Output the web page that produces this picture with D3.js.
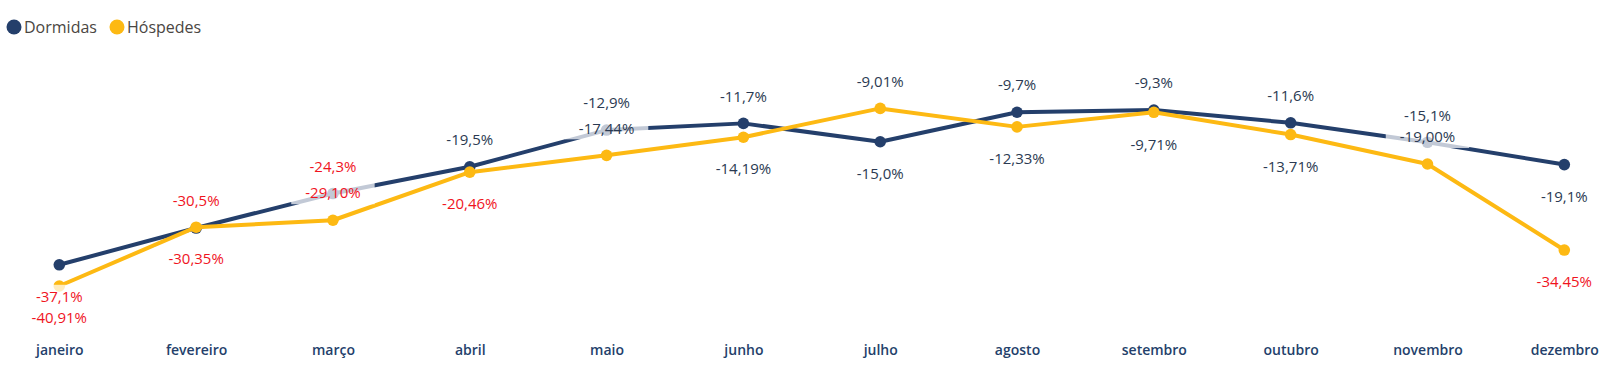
<!DOCTYPE html>
<html>
<head>
    <title>Dormidas e Hóspedes</title>
    <meta charset="utf-8">
    <style>
        body { margin: 0; background: #fff; }
        svg { display: block; font-family: 'Open Sans', 'Noto Sans', sans-serif; }
    </style>
</head>
<body>
<div class='chart-container'></div>
<script src="https://cdn.jsdelivr.net/npm/d3@7/dist/d3.min.js"></script>
<script>
    // data (variação %, por mês)
    var months = ['janeiro', 'fevereiro', 'março', 'abril', 'maio', 'junho',
        'julho', 'agosto', 'setembro', 'outubro', 'novembro', 'dezembro'];
    var dormidas = [-37.1, -30.5, -24.3, -19.5, -12.9, -11.7, -15.0, -9.7, -9.3, -11.6, -15.1, -19.1];
    var hospedes = [-40.91, -30.35, -29.10, -20.46, -17.44, -14.19, -9.01, -12.33, -9.71, -13.71, -19.00, -34.45];

    // where each data label sits relative to its point
    var dormidasLabelSide = ['below', 'above', 'above', 'above', 'above', 'above',
        'below', 'above', 'above', 'above', 'above', 'below'];
    var hospedesLabelSide = ['below', 'below', 'above', 'below', 'above', 'below',
        'above', 'below', 'below', 'below', 'above', 'below'];

    var width = 1615, height = 380;
    var navy = '#243f6b', gold = '#fdb913';
    var redLabel = '#f0141e', darkLabel = '#2b3a52';
    var threshold = -20;

    var locale = d3.formatLocale({decimal: ',', thousands: '.', grouping: [3], currency: ['', '€'], minus: '-'});

    var series = [
        {name: 'Dormidas', values: dormidas, side: dormidasLabelSide, color: navy, fmt: locale.format('.1f')},
        {name: 'Hóspedes', values: hospedes, side: hospedesLabelSide, color: gold, fmt: locale.format('.2f')}
    ];

    var svg = d3.select('.chart-container').append('svg')
            .attr('width', width)
            .attr('height', height);

    var x = d3.scalePoint()
            .domain(months)
            .range([59.3, 1564.3]);

    var allValues = dormidas.concat(hospedes);
    var y = d3.scaleLinear()
            .domain(d3.extent(allValues))
            .range([286, 108.4]);

    // legend
    var legend = svg.append('g').attr('class', 'legend');
    var legendX = [14, 117];
    series.forEach(function (s, i) {
        var g = legend.append('g').attr('transform', 'translate(' + legendX[i] + ',27)');
        g.append('circle').attr('r', 7.5).attr('fill', s.color);
        g.append('text')
                .attr('x', 10)
                .attr('dy', '0.35em')
                .style('font-size', '16px')
                .style('fill', '#4a4642')
                .text(s.name);
    });

    // x axis (labels only)
    var xAxis = d3.axisBottom(x).tickSize(0).tickPadding(0);
    var gx = svg.append('g')
            .attr('transform', 'translate(0,345)')
            .call(xAxis);
    gx.select('.domain').remove();
    gx.selectAll('text')
            .attr('dy', '0.71em')
            .style('font-family', "'Open Sans', sans-serif")
            .style('font-size', '14px')
            .style('font-weight', 600)
            .style('fill', navy);

    var line = d3.line()
            .x(function (d, i) { return x(months[i]); })
            .y(function (d) { return y(d); });

    var gLines = svg.append('g').attr('class', 'lines');
    series.forEach(function (s) {
        var g = gLines.append('g');
        g.append('path')
                .attr('d', line(s.values))
                .style('fill', 'none')
                .style('stroke', s.color)
                .style('stroke-width', 4)
                .style('stroke-linejoin', 'round');
        g.selectAll('circle')
                .data(s.values)
                .enter()
                .append('circle')
                .attr('cx', function (d, i) { return x(months[i]); })
                .attr('cy', function (d) { return y(d); })
                .attr('r', 5.8)
                .style('fill', s.color);
    });

    // data labels with translucent white background
    var gLabels = svg.append('g').attr('class', 'labels');
    series.forEach(function (s) {
        s.values.forEach(function (v, i) {
            var cy = y(v) + (s.side[i] === 'above' ? -27 : 32);
            var g = gLabels.append('g')
                    .attr('transform', 'translate(' + x(months[i]) + ',' + cy + ')');
            var bg = g.append('rect').style('fill', '#fff').style('opacity', 0.72);
            var t = g.append('text')
                    .attr('text-anchor', 'middle')
                    .attr('dy', '0.35em')
                    .style('font-size', '15px')
                    .style('fill', v < threshold ? redLabel : darkLabel)
                    .text(s.fmt(v) + '%');
            var w = t.node().getComputedTextLength() + 28;
            bg.attr('x', -w / 2).attr('y', -12).attr('width', w).attr('height', 23);
        });
    });
</script>
</body>
</html>
